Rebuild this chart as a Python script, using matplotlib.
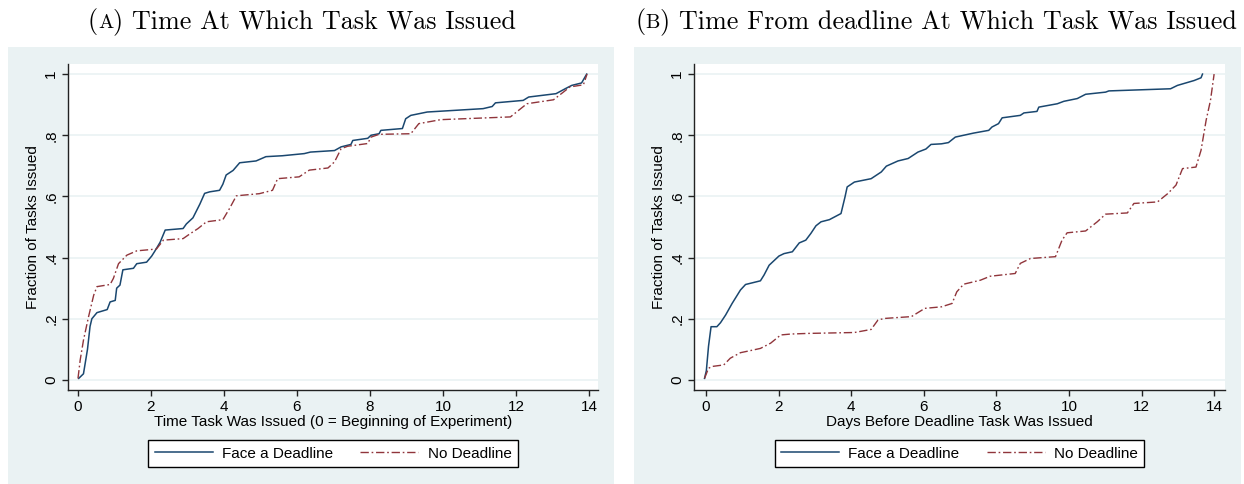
import matplotlib
matplotlib.use("Agg")
import matplotlib.pyplot as plt
from matplotlib.patches import Rectangle

# (A) time at which task was issued
a_face_x = [0.02, 0.15, 0.26, 0.33, 0.38, 0.52, 0.8, 0.88, 1.02, 1.06, 1.15, 1.23, 1.52, 1.61,
            1.88, 2.02, 2.1, 2.25, 2.39, 2.88, 2.97, 3.15, 3.34, 3.47, 3.61, 3.88, 3.97, 4.06,
            4.25, 4.43, 4.88, 5.15, 5.6, 6.2, 6.37, 7.03, 7.21, 7.48, 7.53, 7.94, 8.03, 8.25,
            8.3, 8.89, 8.98, 9.12, 9.57, 11.1, 11.35, 11.44, 12.2, 12.35, 13.1, 13.35, 13.53,
            13.8, 13.94]
a_face_y = [0.005, 0.02, 0.1, 0.175, 0.2, 0.22, 0.23, 0.255, 0.26, 0.3, 0.31, 0.36, 0.365, 0.38,
            0.385, 0.405, 0.42, 0.45, 0.49, 0.495, 0.51, 0.53, 0.575, 0.61, 0.615, 0.62, 0.64, 0.67,
            0.685, 0.71, 0.716, 0.73, 0.733, 0.74, 0.745, 0.75, 0.762, 0.77, 0.783, 0.79, 0.8, 0.805,
            0.816, 0.822, 0.854, 0.865, 0.876, 0.887, 0.894, 0.906, 0.914, 0.925, 0.936, 0.952, 0.963,
            0.971, 1.0]
a_none_x = [0.0, 0.06, 0.15, 0.29, 0.43, 0.52, 0.88, 0.97, 1.11, 1.34, 1.61, 2.15, 2.34, 2.88,
            3.06, 3.29, 3.52, 3.97, 4.15, 4.34, 4.97, 5.33, 5.47, 6.06, 6.34, 6.85, 7.03, 7.21,
            7.39, 7.94, 8.03, 8.25, 9.12, 9.34, 9.94, 11.85, 12.3, 13.03, 13.3, 13.48, 13.85, 13.95]
a_none_y = [0.005, 0.065, 0.13, 0.207, 0.277, 0.305, 0.312, 0.332, 0.38, 0.408, 0.422, 0.428, 0.457,
            0.462, 0.477, 0.495, 0.517, 0.524, 0.56, 0.602, 0.609, 0.62, 0.658, 0.664, 0.686, 0.693,
            0.713, 0.756, 0.764, 0.773, 0.794, 0.803, 0.805, 0.838, 0.851, 0.86, 0.903, 0.916, 0.941,
            0.958, 0.965, 1.0]

# (B) days before deadline at which task was issued
b_face_x = [-0.04, 0.01, 0.07, 0.14, 0.3, 0.4, 0.54, 0.72, 0.95, 1.09, 1.5, 1.6, 1.74, 2.01, 2.15,
            2.38, 2.57, 2.75, 2.89, 3.03, 3.17, 3.4, 3.72, 3.83, 3.89, 4.09, 4.55, 4.83, 4.97, 5.29,
            5.57, 5.84, 6.06, 6.2, 6.49, 6.68, 6.87, 7.37, 7.79, 7.88, 8.06, 8.16, 8.66, 8.76, 9.12,
            9.17, 9.68, 9.86, 10.23, 10.46, 11.01, 11.1, 12.8, 12.99, 13.45, 13.64, 13.68]
b_face_y = [0.005, 0.03, 0.11, 0.174, 0.174, 0.187, 0.212, 0.25, 0.294, 0.312, 0.324, 0.343, 0.375,
            0.405, 0.413, 0.419, 0.448, 0.457, 0.479, 0.504, 0.517, 0.524, 0.544, 0.598, 0.631, 0.647,
            0.658, 0.68, 0.699, 0.716, 0.724, 0.745, 0.755, 0.77, 0.772, 0.776, 0.794, 0.807, 0.816,
            0.827, 0.838, 0.857, 0.865, 0.873, 0.878, 0.892, 0.903, 0.911, 0.92, 0.934, 0.941, 0.945,
            0.952, 0.963, 0.979, 0.988, 1.0]
b_none_x = [-0.04, 0.07, 0.17, 0.49, 0.67, 0.95, 1.23, 1.5, 1.78, 2.06, 2.34, 2.8, 4.09, 4.55, 4.74,
            4.92, 5.66, 6.03, 6.49, 6.78, 6.91, 7.1, 7.56, 7.83, 8.52, 8.66, 8.94, 9.63, 9.81, 9.95,
            10.46, 10.78, 11.01, 11.61, 11.79, 12.44, 12.72, 12.95, 13.13, 13.5, 13.64, 13.78, 13.9, 14.0]
b_none_y = [0.005, 0.038, 0.044, 0.049, 0.071, 0.089, 0.096, 0.103, 0.12, 0.147, 0.15, 0.152, 0.155,
            0.165, 0.196, 0.201, 0.207, 0.234, 0.239, 0.25, 0.288, 0.313, 0.326, 0.339, 0.348, 0.381,
            0.397, 0.403, 0.457, 0.481, 0.487, 0.517, 0.542, 0.546, 0.577, 0.582, 0.609, 0.637, 0.691,
            0.696, 0.751, 0.849, 0.914, 1.0]

x_ticks = [0, 2, 4, 6, 8, 10, 12, 14]
y_ticks = [0, 0.2, 0.4, 0.6, 0.8, 1.0]
y_labels = ["0", ".2", ".4", ".6", ".8", "1"]
legend_labels = ["Face a Deadline", "No Deadline"]

BG = "#eaf2f3"
NAVY = "#1a476f"
MAROON = "#90353b"
AXC = "#222222"
W, H = 1244, 484
FS = 11

plt.rcParams["font.family"] = ["Liberation Sans", "DejaVu Sans"]

fig = plt.figure(figsize=(W / 100, H / 100), dpi=100)


def fx(px):
    return px / W


def fy(py):
    return 1 - py / H


# light outer panels (stata graph region), kept behind the axes
for x0, x1 in [(8, 614), (634, 1241)]:
    fig.patches.append(Rectangle((fx(x0), 0), fx(x1 - x0), fy(47), transform=fig.transFigure,
                                 facecolor=BG, edgecolor="none", zorder=-10))


def title_small_caps(xc, ybase, letter, rest, size=18.8):
    # "(A) rest" with the letter in small caps
    r = fig.canvas.get_renderer()
    parts = [("(", size), (letter, size * 0.78), (") " + rest, size)]
    texts = [fig.text(0, fy(ybase), s, fontsize=fs, family="cmr10", va="baseline")
             for s, fs in parts]
    widths = [t.get_window_extent(r).width for t in texts]
    x = xc - sum(widths) / 2
    for t, w in zip(texts, widths):
        t.set_x(fx(x))
        x += w


def panel(rect_px, xlim, face, none, xlabel, title, letter, xc_title):
    l, r, t, b = rect_px
    ax = fig.add_axes([fx(l), fy(b), fx(r - l), fy(t) - fy(b)])
    ax.set_facecolor("white")
    ax.plot(face[0], face[1], color=NAVY, lw=1.1, label=legend_labels[0])
    ln, = ax.plot(none[0], none[1], color=MAROON, lw=1.0, label=legend_labels[1])
    ln.set_dashes([6, 2, 1.2, 2])
    ax.set_xlim(*xlim)
    ax.set_ylim(-0.033, 1.033)
    ax.set_xticks(x_ticks)
    ax.set_yticks(y_ticks)
    ax.set_yticklabels(y_labels, rotation=90, va="center")
    ax.grid(axis="y", color=BG, lw=1.2)
    ax.set_axisbelow(True)
    for s in ["top", "right"]:
        ax.spines[s].set_visible(False)
    for s in ["left", "bottom"]:
        ax.spines[s].set_color(AXC)
        ax.spines[s].set_linewidth(1.0)
    ax.tick_params(direction="out", length=4, width=1.0, color=AXC, labelsize=FS,
                   labelcolor="black", pad=3)
    ax.set_xlabel(xlabel, fontsize=FS, labelpad=1)
    ax.set_ylabel("Fraction of Tasks Issued", fontsize=FS, labelpad=3)
    leg = fig.legend(loc="center", bbox_to_anchor=(fx((l + r) / 2), fy(453.5)), ncol=2,
                     fontsize=FS, frameon=True, fancybox=False, edgecolor="black",
                     framealpha=1, facecolor="white",
                     handlelength=3.8, columnspacing=1.8, handletextpad=0.6, borderpad=0.4,
                     handles=ax.get_lines())
    leg.get_frame().set_linewidth(1.0)
    title_small_caps(xc_title, 28, letter, title)
    return ax


panel((68, 598, 64, 390), (-0.274, 14.25), (a_face_x, a_face_y), (a_none_x, a_none_y),
      "Time Task Was Issued (0 = Beginning of Experiment)",
      "Time At Which Task Was Issued", "A", 302)
panel((694, 1225, 64, 390), (-0.33, 14.3), (b_face_x, b_face_y), (b_none_x, b_none_y),
      "Days Before Deadline Task Was Issued",
      "Time From deadline At Which Task Was Issued", "B", 936)

fig.savefig("out.png", dpi=100)
